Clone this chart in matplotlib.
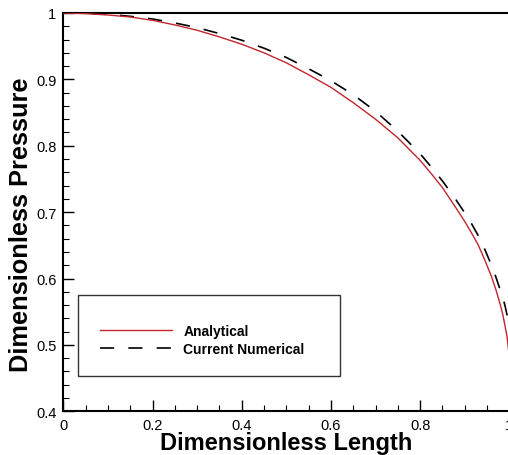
import matplotlib
matplotlib.use("Agg")
import matplotlib.pyplot as plt
from matplotlib.patches import Rectangle
from matplotlib.ticker import MultipleLocator

# Data
x_analytical = [0.0, 0.05, 0.1, 0.15, 0.2, 0.25, 0.3, 0.35, 0.4, 0.45, 0.5,
                0.55, 0.6, 0.65, 0.7, 0.75, 0.8, 0.825, 0.85, 0.875, 0.9,
                0.915, 0.93, 0.945, 0.96, 0.97, 0.98, 0.985, 0.99, 0.995,
                0.997, 0.999, 1.0]
y_analytical = [1.0, 0.999, 0.997, 0.994, 0.989, 0.982, 0.974, 0.964, 0.953,
                0.940, 0.925, 0.907, 0.888, 0.865, 0.840, 0.812, 0.778, 0.758,
                0.737, 0.712, 0.686, 0.669, 0.651, 0.628, 0.603, 0.583, 0.560,
                0.547, 0.530, 0.512, 0.500, 0.488, 0.473]

x_numerical = [0.0, 0.05, 0.1, 0.15, 0.2, 0.25, 0.3, 0.35, 0.4, 0.45, 0.5,
               0.55, 0.6, 0.65, 0.7, 0.75, 0.8, 0.825, 0.85, 0.875, 0.9,
               0.915, 0.93, 0.945, 0.96, 0.97, 0.98, 0.985, 0.99, 0.995, 1.0]
y_numerical = [1.0, 0.9995, 0.998, 0.995, 0.991, 0.985, 0.978, 0.969, 0.959,
               0.947, 0.933, 0.916, 0.898, 0.877, 0.852, 0.822, 0.788, 0.768,
               0.747, 0.724, 0.699, 0.683, 0.665, 0.644, 0.620, 0.602, 0.582,
               0.572, 0.560, 0.545, 0.525]

plt.rcParams["font.family"] = ["Liberation Sans", "DejaVu Sans"]

fig = plt.figure(figsize=(5.08, 4.56), dpi=100)
ax = fig.add_axes([0.1246, 0.0958, 0.878, 0.8735])

ax.plot(x_analytical, y_analytical, color="#c0262d", linewidth=1.0,
        label="Analytical", zorder=3)
ax.plot(x_numerical, y_numerical, color="black", linewidth=1.2,
        dashes=(8.5, 8.5), label="Current Numerical", zorder=2)

ax.set_xlim(0, 1)
ax.set_ylim(0.4, 1)
ax.xaxis.set_major_locator(MultipleLocator(0.2))
ax.xaxis.set_minor_locator(MultipleLocator(0.05))
ax.yaxis.set_major_locator(MultipleLocator(0.1))
ax.yaxis.set_minor_locator(MultipleLocator(0.02))
ax.xaxis.set_major_formatter(plt.FuncFormatter(lambda v, p: f"{v:g}"))
ax.yaxis.set_major_formatter(plt.FuncFormatter(lambda v, p: f"{v:g}"))

ax.tick_params(which="major", direction="in", length=8, width=1.0,
               labelsize=10.5, pad=5, top=False, right=False)
ax.tick_params(which="minor", direction="in", length=4.5, width=0.8,
               top=False, right=False)
for s in ax.spines.values():
    s.set_linewidth(1.5)

ax.set_xlabel("Dimensionless Length", fontsize=17, fontweight="bold",
              labelpad=-1)
ax.set_ylabel("Dimensionless Pressure", fontsize=18.3, fontweight="bold")
ax.yaxis.set_label_coords(-0.068, 0.47)

# legend box
ax.add_patch(Rectangle((0.033, 0.0886), 0.587, 0.2034, transform=ax.transAxes,
                       facecolor="white", edgecolor="#333333", linewidth=1.0,
                       zorder=4))
leg = ax.legend(loc="center left", bbox_to_anchor=(0.082, 0.179),
                frameon=False, borderpad=0, borderaxespad=0,
                handlelength=5.2, handletextpad=0.8, labelspacing=0.25,
                prop={"weight": "bold", "size": 10})
leg.set_zorder(5)

fig.savefig("out.png", dpi=100)
